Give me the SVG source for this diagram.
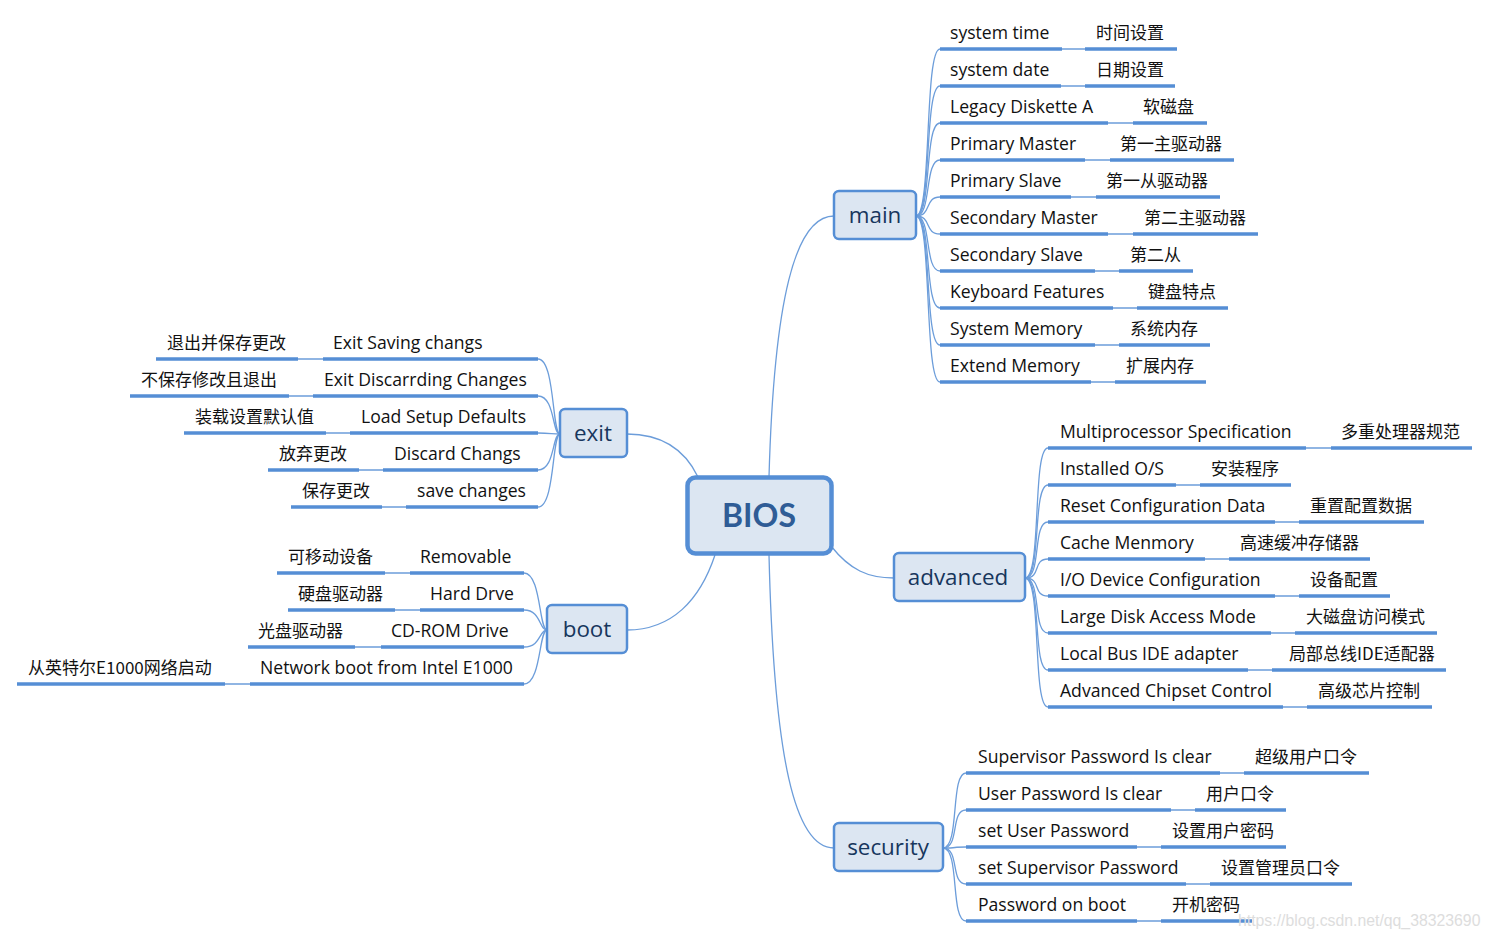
<svg xmlns="http://www.w3.org/2000/svg" width="1490" height="938" viewBox="0 0 1490 938">
<style>
.bg{fill:#ffffff}
.n rect{fill:#DCE6F2;stroke:#558ED5;stroke-width:2.5}
.root rect{fill:#DCE6F2;stroke:#558ED5;stroke-width:4.5}
.nt{font-family:"Open Sans","Noto Sans",sans-serif;font-size:22.4px;fill:#17365D;text-anchor:middle}
.rt{font-family:Lato,"Noto Sans",sans-serif;font-size:32px;font-weight:bold;fill:#2F5C96;text-anchor:middle}
.u{stroke:#558ED5;stroke-width:3.5;fill:none}
.c{stroke:#6C9DDA;stroke-width:1.3;fill:none}
.en{font-family:"Open Sans","Noto Sans",sans-serif;font-size:17.6px;fill:#111111}
.cn{font-family:"Noto Sans CJK SC",sans-serif;font-size:17px;fill:#111111}
.wm{font-family:"Liberation Sans",Arial,sans-serif;font-size:15.8px;fill:#DDDDDD}
</style>
<rect class="bg" x="0" y="0" width="1490" height="938"/>

<g id="connectors">
<!-- root to branches -->
<path class="c" d="M769,477 C774,300 795,216 834,216"/>
<path class="c" d="M769,555 C774,760 795,848 834,848"/>
<path class="c" d="M831,546 C850,570 868,578 894,578"/>
<path class="c" d="M627,434 C665,434 686,452 698,477"/>
<path class="c" d="M627,630 C672,630 700,600 715,555"/>
<!-- main -->
<path class="c" d="M916,216 C932,216 924,49 940,49"/>
<path class="c" d="M916,216 C932,216 924,86 940,86"/>
<path class="c" d="M916,216 C932,216 924,123 940,123"/>
<path class="c" d="M916,216 C932,216 924,160 940,160"/>
<path class="c" d="M916,216 C932,216 924,197 940,197"/>
<path class="c" d="M916,216 C932,216 924,234 940,234"/>
<path class="c" d="M916,216 C932,216 924,271 940,271"/>
<path class="c" d="M916,216 C932,216 924,308 940,308"/>
<path class="c" d="M916,216 C932,216 924,345 940,345"/>
<path class="c" d="M916,216 C932,216 924,382 940,382"/>
<path class="c" d="M1062,49 H1085 M1061,86 H1085 M1108,123 H1133 M1085,160 H1110 M1071,197 H1096 M1108,234 H1133 M1095,271 H1119 M1113,308 H1137 M1095,345 H1119 M1091,382 H1115"/>
<!-- advanced -->
<path class="c" d="M1025,578 C1042,578 1032,448 1048,448"/>
<path class="c" d="M1025,578 C1042,578 1032,485 1048,485"/>
<path class="c" d="M1025,578 C1042,578 1032,522 1048,522"/>
<path class="c" d="M1025,578 C1042,578 1032,559 1048,559"/>
<path class="c" d="M1025,578 C1042,578 1032,596 1048,596"/>
<path class="c" d="M1025,578 C1042,578 1032,633 1048,633"/>
<path class="c" d="M1025,578 C1042,578 1032,670 1048,670"/>
<path class="c" d="M1025,578 C1042,578 1032,707 1048,707"/>
<path class="c" d="M1306,448 H1331 M1176,485 H1200 M1275,522 H1299 M1205,559 H1229 M1275,596 H1299 M1271,633 H1295 M1248,670 H1272 M1283,707 H1307"/>
<!-- security -->
<path class="c" d="M943,848 C960,848 950,773 966,773"/>
<path class="c" d="M943,848 C960,848 950,810 966,810"/>
<path class="c" d="M943,848 C960,848 950,847 966,847"/>
<path class="c" d="M943,848 C960,848 950,884 966,884"/>
<path class="c" d="M943,848 C960,848 950,921 966,921"/>
<path class="c" d="M1220,773 H1244 M1171,810 H1195 M1137,847 H1161 M1186,884 H1210 M1137,921 H1161"/>
<!-- exit -->
<path class="c" d="M538,359 C555,359 552,434 560,434"/>
<path class="c" d="M538,396 C555,396 552,434 560,434"/>
<path class="c" d="M538,433 C550,433 552,434 560,434"/>
<path class="c" d="M538,470 C555,470 552,434 560,434"/>
<path class="c" d="M538,507 C555,507 552,434 560,434"/>
<path class="c" d="M298,359 H323 M289,396 H313 M326,433 H350 M359,470 H383 M382,507 H406"/>
<!-- boot -->
<path class="c" d="M524,573 C541,573 539,630 547,630"/>
<path class="c" d="M524,610 C541,610 539,630 547,630"/>
<path class="c" d="M524,647 C541,647 539,630 547,630"/>
<path class="c" d="M524,684 C541,684 539,630 547,630"/>
<path class="c" d="M385,573 H410 M395,610 H420 M355,647 H381 M225,684 H250"/>
</g>

<g id="BIOS" class="root"><rect x="687.5" y="477.5" width="144" height="76" rx="8"/><text class="rt" x="759" y="527">BIOS</text></g>
<g id="main" class="n"><rect x="834" y="191" width="82" height="48" rx="5"/><text class="nt" x="875" y="223">main</text></g>
<g id="exit" class="n"><rect x="560" y="409" width="67" height="48" rx="5"/><text class="nt" x="593" y="441">exit</text></g>
<g id="boot" class="n"><rect x="547" y="605" width="80" height="48" rx="5"/><text class="nt" x="587" y="637">boot</text></g>
<g id="advanced" class="n"><rect x="894" y="553" width="131" height="48" rx="5"/><text class="nt" x="958" y="585">advanced</text></g>
<g id="security" class="n"><rect x="834" y="823" width="109" height="48" rx="5"/><text class="nt" x="888" y="855">security</text></g>

<!-- main leaves -->
<g id="m1"><path class="u" d="M940,49 H1062"/><text class="en" x="950" y="39">system time</text></g>
<g id="m1c"><path class="u" d="M1085,49 H1177"/><text class="cn" x="1096" y="39">时间设置</text></g>
<g id="m2"><path class="u" d="M940,86 H1061"/><text class="en" x="950" y="76">system date</text></g>
<g id="m2c"><path class="u" d="M1085,86 H1175"/><text class="cn" x="1096" y="76">日期设置</text></g>
<g id="m3"><path class="u" d="M940,123 H1108"/><text class="en" x="950" y="113">Legacy Diskette A</text></g>
<g id="m3c"><path class="u" d="M1133,123 H1207"/><text class="cn" x="1143" y="113">软磁盘</text></g>
<g id="m4"><path class="u" d="M940,160 H1085"/><text class="en" x="950" y="150">Primary Master</text></g>
<g id="m4c"><path class="u" d="M1110,160 H1234"/><text class="cn" x="1120" y="150">第一主驱动器</text></g>
<g id="m5"><path class="u" d="M940,197 H1071"/><text class="en" x="950" y="187">Primary Slave</text></g>
<g id="m5c"><path class="u" d="M1096,197 H1220"/><text class="cn" x="1106" y="187">第一从驱动器</text></g>
<g id="m6"><path class="u" d="M940,234 H1108"/><text class="en" x="950" y="224">Secondary Master</text></g>
<g id="m6c"><path class="u" d="M1133,234 H1258"/><text class="cn" x="1144" y="224">第二主驱动器</text></g>
<g id="m7"><path class="u" d="M940,271 H1095"/><text class="en" x="950" y="261">Secondary Slave</text></g>
<g id="m7c"><path class="u" d="M1119,271 H1193"/><text class="cn" x="1130" y="261">第二从</text></g>
<g id="m8"><path class="u" d="M940,308 H1113"/><text class="en" x="950" y="298">Keyboard Features</text></g>
<g id="m8c"><path class="u" d="M1137,308 H1228"/><text class="cn" x="1148" y="298">键盘特点</text></g>
<g id="m9"><path class="u" d="M940,345 H1095"/><text class="en" x="950" y="335">System Memory</text></g>
<g id="m9c"><path class="u" d="M1119,345 H1210"/><text class="cn" x="1130" y="335">系统内存</text></g>
<g id="m10"><path class="u" d="M940,382 H1091"/><text class="en" x="950" y="372">Extend Memory</text></g>
<g id="m10c"><path class="u" d="M1115,382 H1206"/><text class="cn" x="1126" y="372">扩展内存</text></g>

<!-- advanced leaves -->
<g id="a1"><path class="u" d="M1048,448 H1306"/><text class="en" x="1060" y="438">Multiprocessor Specification</text></g>
<g id="a1c"><path class="u" d="M1331,448 H1472"/><text class="cn" x="1341" y="438">多重处理器规范</text></g>
<g id="a2"><path class="u" d="M1048,485 H1176"/><text class="en" x="1060" y="475">Installed O/S</text></g>
<g id="a2c"><path class="u" d="M1200,485 H1291"/><text class="cn" x="1211" y="475">安装程序</text></g>
<g id="a3"><path class="u" d="M1048,522 H1275"/><text class="en" x="1060" y="512">Reset Configuration Data</text></g>
<g id="a3c"><path class="u" d="M1299,522 H1424"/><text class="cn" x="1310" y="512">重置配置数据</text></g>
<g id="a4"><path class="u" d="M1048,559 H1205"/><text class="en" x="1060" y="549">Cache Menmory</text></g>
<g id="a4c"><path class="u" d="M1229,559 H1370"/><text class="cn" x="1240" y="549">高速缓冲存储器</text></g>
<g id="a5"><path class="u" d="M1048,596 H1275"/><text class="en" x="1060" y="586">I/O Device Configuration</text></g>
<g id="a5c"><path class="u" d="M1299,596 H1390"/><text class="cn" x="1310" y="586">设备配置</text></g>
<g id="a6"><path class="u" d="M1048,633 H1271"/><text class="en" x="1060" y="623">Large Disk Access Mode</text></g>
<g id="a6c"><path class="u" d="M1295,633 H1437"/><text class="cn" x="1306" y="623">大磁盘访问模式</text></g>
<g id="a7"><path class="u" d="M1048,670 H1248"/><text class="en" x="1060" y="660">Local Bus IDE adapter</text></g>
<g id="a7c"><path class="u" d="M1272,670 H1446"/><text class="cn" x="1289" y="660">局部总线IDE适配器</text></g>
<g id="a8"><path class="u" d="M1048,707 H1283"/><text class="en" x="1060" y="697">Advanced Chipset Control</text></g>
<g id="a8c"><path class="u" d="M1307,707 H1432"/><text class="cn" x="1318" y="697">高级芯片控制</text></g>

<!-- security leaves -->
<g id="s1"><path class="u" d="M966,773 H1220"/><text class="en" x="978" y="763">Supervisor Password Is clear</text></g>
<g id="s1c"><path class="u" d="M1244,773 H1369"/><text class="cn" x="1255" y="763">超级用户口令</text></g>
<g id="s2"><path class="u" d="M966,810 H1171"/><text class="en" x="978" y="800">User Password Is clear</text></g>
<g id="s2c"><path class="u" d="M1195,810 H1286"/><text class="cn" x="1206" y="800">用户口令</text></g>
<g id="s3"><path class="u" d="M966,847 H1137"/><text class="en" x="978" y="837">set User Password</text></g>
<g id="s3c"><path class="u" d="M1161,847 H1286"/><text class="cn" x="1172" y="837">设置用户密码</text></g>
<g id="s4"><path class="u" d="M966,884 H1186"/><text class="en" x="978" y="874">set Supervisor Password</text></g>
<g id="s4c"><path class="u" d="M1210,884 H1352"/><text class="cn" x="1221" y="874">设置管理员口令</text></g>
<g id="s5"><path class="u" d="M966,921 H1137"/><text class="en" x="978" y="911">Password on boot</text></g>
<g id="s5c"><path class="u" d="M1161,921 H1252"/><text class="cn" x="1172" y="911">开机密码</text></g>

<!-- exit leaves -->
<g id="e1"><path class="u" d="M323,359 H538"/><text class="en" x="333" y="349">Exit Saving changs</text></g>
<g id="e1c"><path class="u" d="M156,359 H298"/><text class="cn" x="167" y="349">退出并保存更改</text></g>
<g id="e2"><path class="u" d="M313,396 H538"/><text class="en" x="324" y="386">Exit Discarrding Changes</text></g>
<g id="e2c"><path class="u" d="M130,396 H289"/><text class="cn" x="141" y="386">不保存修改且退出</text></g>
<g id="e3"><path class="u" d="M350,433 H538"/><text class="en" x="361" y="423">Load Setup Defaults</text></g>
<g id="e3c"><path class="u" d="M184,433 H326"/><text class="cn" x="195" y="423">装载设置默认值</text></g>
<g id="e4"><path class="u" d="M383,470 H538"/><text class="en" x="394" y="460">Discard Changs</text></g>
<g id="e4c"><path class="u" d="M268,470 H359"/><text class="cn" x="279" y="460">放弃更改</text></g>
<g id="e5"><path class="u" d="M406,507 H538"/><text class="en" x="417" y="497">save changes</text></g>
<g id="e5c"><path class="u" d="M291,507 H382"/><text class="cn" x="302" y="497">保存更改</text></g>

<!-- boot leaves -->
<g id="b1"><path class="u" d="M410,573 H524"/><text class="en" x="420" y="563">Removable</text></g>
<g id="b1c"><path class="u" d="M277,573 H385"/><text class="cn" x="288" y="563">可移动设备</text></g>
<g id="b2"><path class="u" d="M420,610 H524"/><text class="en" x="430" y="600">Hard Drve</text></g>
<g id="b2c"><path class="u" d="M288,610 H395"/><text class="cn" x="298" y="600">硬盘驱动器</text></g>
<g id="b3"><path class="u" d="M381,647 H524"/><text class="en" x="391" y="637">CD-ROM Drive</text></g>
<g id="b3c"><path class="u" d="M248,647 H355"/><text class="cn" x="258" y="637">光盘驱动器</text></g>
<g id="b4"><path class="u" d="M250,684 H524"/><text class="en" x="260" y="674">Network boot from Intel E1000</text></g>
<g id="b4c"><path class="u" d="M17,684 H225"/><text class="cn" x="28" y="674">从英特尔E1000网络启动</text></g>

<text class="wm" x="1238" y="926">https://blog.csdn.net/qq_38323690</text>
</svg>
